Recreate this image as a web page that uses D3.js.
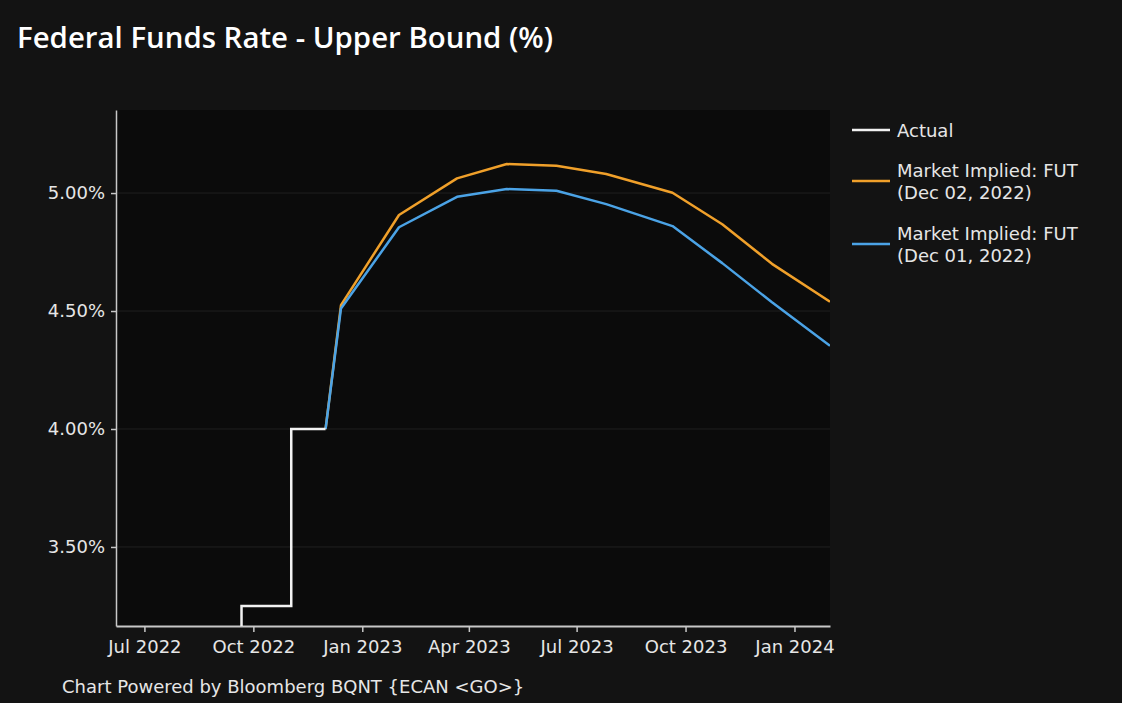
<!DOCTYPE html>
<html>
<head>
<meta charset="utf-8">
<script src="https://cdn.jsdelivr.net/npm/d3@7"></script>
<style>
  html, body { margin: 0; padding: 0; background: #131313; }
  svg { display: block; }
</style>
</head>
<body>
<svg id="chart" width="1122" height="703"></svg>
<script>
// ---- Data ----
const actualDates  = ["2022-06-07", "2022-06-15", "2022-07-27", "2022-09-21", "2022-11-02", "2022-12-01"];
const actualValues = [1.00, 1.75, 2.50, 3.25, 4.00, 4.00];

const futDates = ["2022-12-01", "2022-12-14", "2023-02-01", "2023-03-22", "2023-05-03", "2023-06-14",
                  "2023-07-26", "2023-09-20", "2023-11-01", "2023-12-13", "2024-01-31"];
const futDec02 = [4.00, 4.525, 4.907, 5.062, 5.123, 5.116, 5.081, 5.001, 4.868, 4.700, 4.539];
const futDec01 = [4.00, 4.511, 4.855, 4.984, 5.017, 5.010, 4.953, 4.860, 4.703, 4.537, 4.353];

const yTicks = [3.5, 4.0, 4.5, 5.0];
const xTickDates = ["2022-07-01", "2022-10-01", "2023-01-01", "2023-04-01", "2023-07-01", "2023-10-01", "2024-01-01"];
const xDomain = ["2022-06-07", "2024-01-31"];
const yDomain = [3.165, 5.352];

const seriesNames = ["Actual", ["Market Implied: FUT", "(Dec 02, 2022)"], ["Market Implied: FUT", "(Dec 01, 2022)"]];
const seriesColors = ["#f2f2f2", "#f0a02a", "#4ba3e6"];

const title = "Federal Funds Rate - Upper Bound (%)";
const footer = "Chart Powered by Bloomberg BQNT {ECAN <GO>}";

// ---- Layout ----
const parse = d3.utcParse("%Y-%m-%d");
const margin = { left: 116, right: 292, top: 110, bottom: 77 };
const W = 1122, H = 703;
const pw = W - margin.left - margin.right;
const ph = H - margin.top - margin.bottom;
const FONT = "'DejaVu Sans', Verdana, sans-serif";
const FS = 18;

const svg = d3.select("#chart");
svg.append("rect").attr("width", W).attr("height", H).attr("fill", "#131313");

const x = d3.scaleUtc().domain(xDomain.map(parse)).range([0, pw]);
const y = d3.scaleLinear().domain(yDomain).range([ph, 0]);

const g = svg.append("g").attr("transform", `translate(${margin.left},${margin.top})`);

g.append("rect").attr("width", pw).attr("height", ph).attr("fill", "#0b0b0b");

svg.append("defs").append("clipPath").attr("id", "clip")
  .append("rect").attr("width", pw).attr("height", ph);

// gridlines
g.append("g").selectAll("line").data(yTicks).join("line")
  .attr("x1", 0).attr("x2", pw)
  .attr("y1", d => y(d)).attr("y2", d => y(d))
  .attr("stroke", "#202020").attr("stroke-width", 1);

// y axis
const yAxis = g.append("g")
  .call(d3.axisLeft(y).tickValues(yTicks).tickFormat(d => d.toFixed(2) + "%").tickSize(5).tickSizeOuter(0).tickPadding(6));
yAxis.select(".domain").attr("stroke", "#c8c8c8").attr("stroke-width", 1.5);
yAxis.selectAll(".tick line").attr("stroke", "#c8c8c8").attr("stroke-width", 1.5);
yAxis.selectAll(".tick text").attr("fill", "#e6e6e6").attr("font-size", FS).attr("font-family", FONT);

// x axis
const xAxis = g.append("g").attr("transform", `translate(0,${ph})`)
  .call(d3.axisBottom(x).tickValues(xTickDates.map(parse)).tickFormat(d3.utcFormat("%b %Y")).tickSize(6).tickSizeOuter(0).tickPadding(8));
xAxis.select(".domain").attr("stroke", "#c8c8c8").attr("stroke-width", 2);
xAxis.selectAll(".tick line").attr("stroke", "#c8c8c8").attr("stroke-width", 1.5);
xAxis.selectAll(".tick text").attr("fill", "#e6e6e6").attr("font-size", FS).attr("font-family", FONT);

// lines
const plot = g.append("g").attr("clip-path", "url(#clip)");
const toPts = (dates, vals) => dates.map((d, i) => ({ date: parse(d), v: vals[i] }));

const lineLin = d3.line().x(d => x(d.date)).y(d => y(d.v));
const lineStep = d3.line().x(d => x(d.date)).y(d => y(d.v)).curve(d3.curveStepAfter);

plot.append("path").datum(toPts(futDates, futDec02))
  .attr("d", lineLin).attr("fill", "none").attr("stroke", seriesColors[1]).attr("stroke-width", 2.5).attr("stroke-linejoin", "round");
plot.append("path").datum(toPts(futDates, futDec01))
  .attr("d", lineLin).attr("fill", "none").attr("stroke", seriesColors[2]).attr("stroke-width", 2.5).attr("stroke-linejoin", "round");
plot.append("path").datum(toPts(actualDates, actualValues))
  .attr("d", lineStep).attr("fill", "none").attr("stroke", seriesColors[0]).attr("stroke-width", 2.5);

// title
svg.append("text").attr("x", 17).attr("y", 48)
  .attr("fill", "#ffffff").attr("font-family", "'Open Sans', 'Noto Sans', sans-serif")
  .attr("font-weight", 600).attr("font-size", 29.4).text(title);

// footer
svg.append("text").attr("x", 62).attr("y", 693)
  .attr("fill", "#e6e6e6").attr("font-family", FONT).attr("font-size", FS).text(footer);

// legend
const legend = svg.append("g").attr("transform", "translate(852,0)");
const legendRows = [
  { lineY: 130, textY: [136.5] },
  { lineY: 181, textY: [176.5, 198.5] },
  { lineY: 244, textY: [240, 262] }
];
legendRows.forEach((r, i) => {
  legend.append("line").attr("x1", 0).attr("x2", 38).attr("y1", r.lineY).attr("y2", r.lineY)
    .attr("stroke", seriesColors[i]).attr("stroke-width", 2.5);
  const lines = Array.isArray(seriesNames[i]) ? seriesNames[i] : [seriesNames[i]];
  lines.forEach((t, j) => {
    legend.append("text").attr("x", 45).attr("y", r.textY[j])
      .attr("fill", "#e6e6e6").attr("font-family", FONT).attr("font-size", FS).text(t);
  });
});
</script>
</body>
</html>
